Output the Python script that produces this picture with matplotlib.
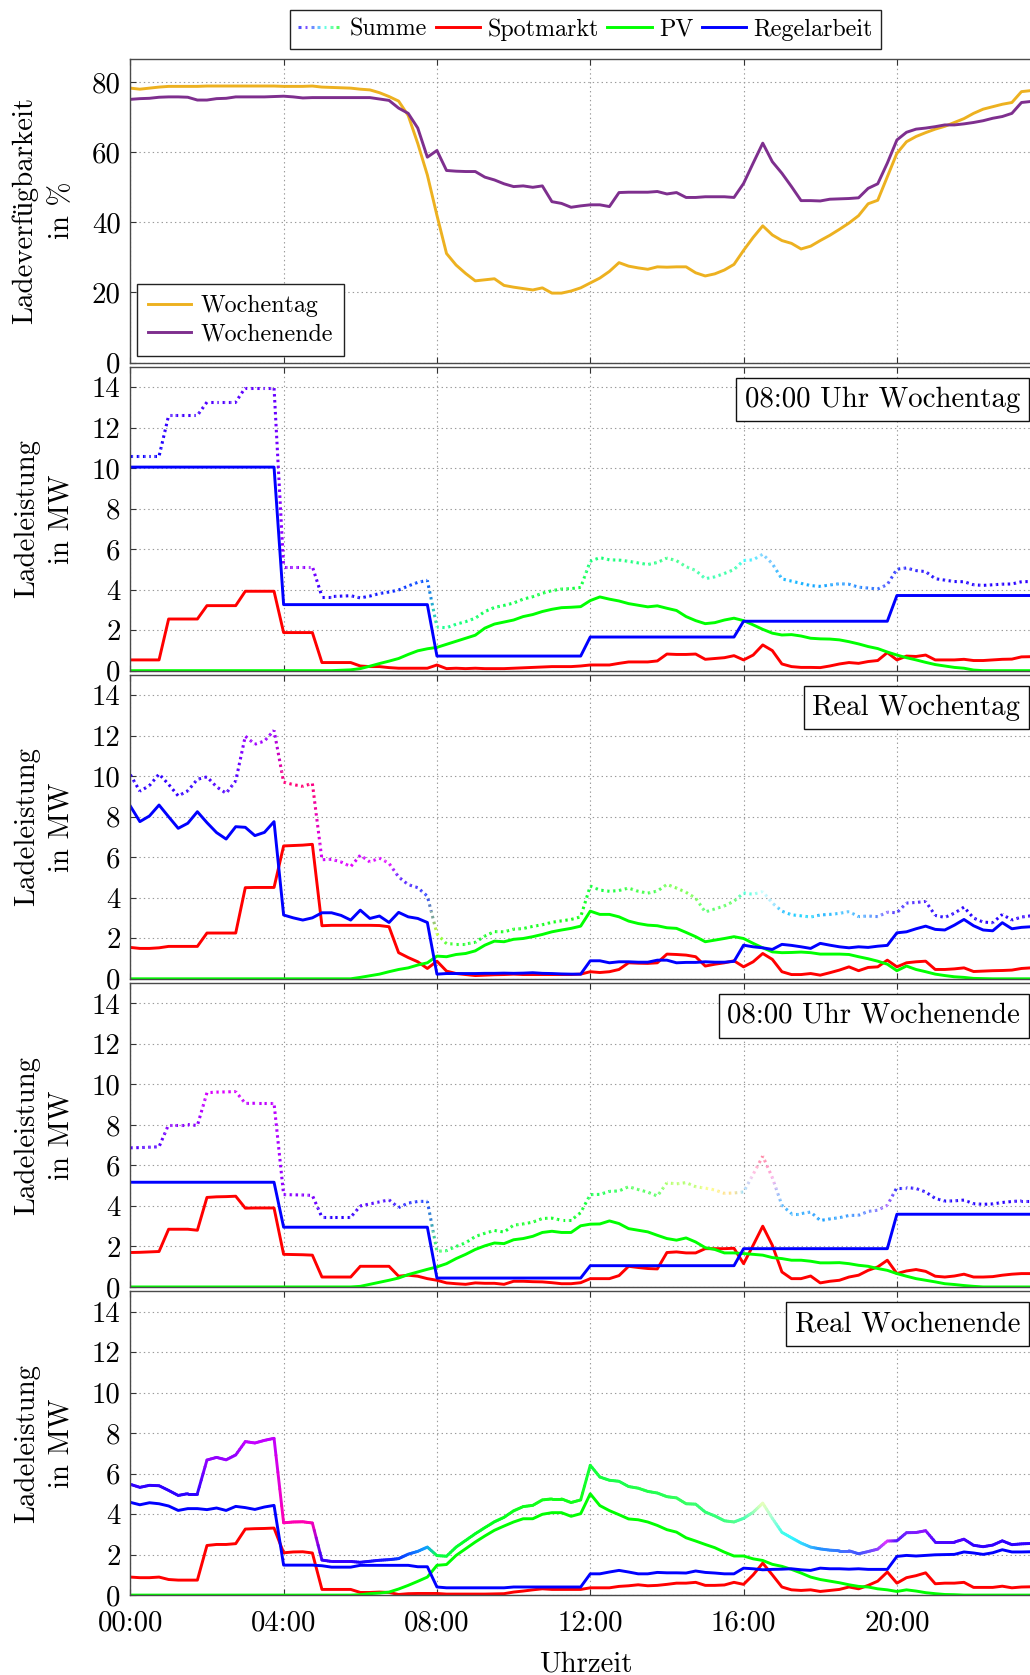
import numpy as np
import matplotlib
matplotlib.use("Agg")
import matplotlib.pyplot as plt
from matplotlib.collections import LineCollection
from matplotlib.legend_handler import HandlerBase
from matplotlib.lines import Line2D

# quarter-hour time axis, 00:00 .. 23:30
HOURS = np.arange(95) * 0.25

# Ladeverfuegbarkeit in %
AVAIL_WT = [78.3, 78.0, 78.3, 78.6,  78.8, 78.8, 78.8, 78.8,  78.9, 78.9, 78.9, 78.9,
            78.9, 78.9, 78.9, 78.9,  78.8, 78.8, 78.8, 78.9,  78.6, 78.5, 78.4, 78.3,
            78.0, 77.8, 77.0, 75.9,  74.6, 70.5, 62.5, 53.5,  42.0, 31.1, 27.8, 25.4,
            23.3, 23.6, 23.9, 22.0,  21.5, 21.1, 20.7, 21.3,  19.8, 19.8, 20.4, 21.3,
            22.7, 24.1, 26.0, 28.5,  27.5, 27.0, 26.6, 27.3,  27.2, 27.3, 27.3, 25.6,
            24.7, 25.3, 26.4, 28.0,  32.0, 35.7, 39.0, 36.4,  34.8, 34.0, 32.4, 33.2,
            34.8, 36.3, 38.0, 39.8,  41.9, 45.3, 46.3, 53.0,  59.7, 63.0, 64.5, 65.6,
            66.6, 67.4, 68.5, 69.6,  71.1, 72.3, 73.0, 73.7,  74.2, 77.3, 77.6]
AVAIL_WE = [75.1, 75.3, 75.4, 75.7,  75.8, 75.8, 75.7, 74.9,  74.9, 75.3, 75.4, 75.8,
            75.8, 75.8, 75.8, 75.9,  76.0, 75.8, 75.5, 75.6,  75.6, 75.6, 75.6, 75.6,
            75.6, 75.6, 75.2, 74.8,  72.6, 71.1, 66.9, 58.6,  60.5, 54.8, 54.6, 54.5,
            54.5, 52.9, 52.1, 51.0,  50.2, 50.4, 50.0, 50.4,  45.9, 45.4, 44.3, 44.7,
            45.0, 45.0, 44.5, 48.5,  48.6, 48.6, 48.6, 48.8,  48.1, 48.5, 47.1, 47.1,
            47.3, 47.3, 47.3, 47.1,  51.1, 56.9, 62.6, 57.3,  54.0, 50.2, 46.2, 46.2,
            46.1, 46.6, 46.7, 46.8,  47.0, 49.7, 51.0, 56.9,  63.5, 65.7, 66.6, 66.9,
            67.3, 67.8, 67.8, 68.1,  68.5, 69.0, 69.7, 70.2,  71.1, 74.2, 74.5]

# 08:00 Uhr Wochentag, MW
SPOT_08_WT = [0.53, 0.53, 0.53, 0.53,  2.55, 2.55, 2.55, 2.55,  3.21, 3.21, 3.21, 3.21,
              3.92, 3.92, 3.92, 3.92,  1.88, 1.88, 1.88, 1.88,  0.40, 0.40, 0.40, 0.40,
              0.23, 0.20, 0.20, 0.15,  0.12, 0.12, 0.12, 0.12,  0.28, 0.10, 0.12, 0.10,
              0.12, 0.10, 0.10, 0.10,  0.12, 0.14, 0.16, 0.18,  0.20, 0.20, 0.20, 0.23,
              0.28, 0.28, 0.28, 0.36,  0.43, 0.43, 0.43, 0.48,  0.82, 0.80, 0.80, 0.82,
              0.56, 0.60, 0.64, 0.74,  0.53, 0.77, 1.27, 0.99,  0.33, 0.20, 0.16, 0.16,
              0.15, 0.23, 0.33, 0.40,  0.36, 0.45, 0.50, 0.89,  0.53, 0.72, 0.70, 0.77,
              0.53, 0.53, 0.53, 0.56,  0.50, 0.50, 0.53, 0.56,  0.57, 0.68, 0.69]
PV_08_WT = [0.0] * 20 + [
              0.00, 0.00, 0.02, 0.04,  0.10, 0.22, 0.35, 0.47,  0.60, 0.80, 0.98, 1.08,
              1.15, 1.30, 1.45, 1.60,  1.75, 2.10, 2.30, 2.40,  2.50, 2.67, 2.77, 2.92,
              3.03, 3.11, 3.13, 3.16,  3.46, 3.64, 3.53, 3.44,  3.31, 3.23, 3.15, 3.20,
              3.08, 2.97, 2.67, 2.47,  2.32, 2.37, 2.50, 2.59,  2.47, 2.26, 2.04, 1.85,
              1.76, 1.78, 1.71, 1.60,  1.57, 1.56, 1.52, 1.43,  1.32, 1.19, 1.09, 0.92,
              0.77, 0.64, 0.53, 0.41,  0.30, 0.23, 0.16, 0.12,  0.03, 0.00, 0.00, 0.00,
              0.00, 0.00, 0.00]
REGEL_08_WT = [10.05] * 16 + [3.26] * 16 + [0.72] * 16 + [1.66] * 16 + [2.44] * 16 + [3.71] * 15

# Real Wochentag, MW
SPOT_REAL_WT = [1.55, 1.50, 1.50, 1.53,  1.60, 1.60, 1.60, 1.60,  2.26, 2.26, 2.26, 2.26,
                4.50, 4.51, 4.51, 4.51,  6.56, 6.58, 6.60, 6.64,  2.62, 2.64, 2.64, 2.64,
                2.64, 2.64, 2.63, 2.57,  1.29, 1.05, 0.84, 0.51,  0.87, 0.38, 0.26, 0.21,
                0.16, 0.18, 0.20, 0.21,  0.23, 0.21, 0.21, 0.21,  0.21, 0.21, 0.21, 0.23,
                0.35, 0.31, 0.35, 0.46,  0.79, 0.77, 0.76, 0.79,  1.22, 1.20, 1.17, 1.09,
                0.63, 0.72, 0.79, 0.89,  0.59, 0.84, 1.25, 0.96,  0.35, 0.21, 0.21, 0.26,
                0.18, 0.30, 0.43, 0.59,  0.40, 0.56, 0.59, 0.92,  0.59, 0.79, 0.84, 0.87,
                0.46, 0.46, 0.49, 0.54,  0.36, 0.38, 0.40, 0.41,  0.43, 0.51, 0.54]
PV_REAL_WT = [0.0] * 24 + [
                0.07, 0.15, 0.23, 0.35,  0.46, 0.54, 0.68, 0.79,  1.12, 1.09, 1.20, 1.25,
                1.38, 1.66, 1.86, 1.83,  1.95, 1.99, 2.08, 2.19,  2.32, 2.41, 2.49, 2.60,
                3.34, 3.18, 3.18, 3.06,  2.85, 2.73, 2.65, 2.62,  2.52, 2.49, 2.29, 2.08,
                1.83, 1.91, 1.99, 2.08,  1.99, 1.75, 1.53, 1.33,  1.29, 1.30, 1.32, 1.29,
                1.22, 1.22, 1.22, 1.20,  1.09, 0.99, 0.87, 0.72,  0.40, 0.63, 0.46, 0.35,
                0.23, 0.16, 0.10, 0.07,  0.02, 0.01, 0.00, 0.00,  0.00, 0.00, 0.00]
REGEL_REAL_WT = [8.53, 7.76, 8.04, 8.58,  8.00, 7.43, 7.68, 8.25,  7.71, 7.22, 6.90, 7.51,
                 7.48, 7.07, 7.23, 7.76,  3.15, 3.01, 2.90, 3.01,  3.26, 3.26, 3.13, 2.90,
                 3.39, 2.98, 3.10, 2.78,  3.28, 3.06, 2.98, 2.78,  0.23, 0.26, 0.26, 0.26,
                 0.26, 0.27, 0.27, 0.28,  0.27, 0.28, 0.30, 0.27,  0.26, 0.24, 0.23, 0.23,
                 0.89, 0.89, 0.79, 0.84,  0.84, 0.82, 0.82, 0.92,  0.92, 0.79, 0.81, 0.81,
                 0.84, 0.82, 0.82, 0.86,  1.66, 1.58, 1.53, 1.45,  1.70, 1.65, 1.58, 1.50,
                 1.75, 1.66, 1.58, 1.53,  1.58, 1.55, 1.61, 1.65,  2.27, 2.32, 2.47, 2.60,
                 2.44, 2.41, 2.65, 2.93,  2.62, 2.41, 2.37, 2.77,  2.47, 2.54, 2.57]

# 08:00 Uhr Wochenende, MW
SPOT_08_WE = [1.70, 1.71, 1.73, 1.75,  2.85, 2.85, 2.85, 2.80,  4.42, 4.45, 4.46, 4.48,
              3.89, 3.90, 3.90, 3.90,  1.61, 1.60, 1.59, 1.57,  0.49, 0.49, 0.49, 0.49,
              1.02, 1.02, 1.02, 1.02,  0.53, 0.58, 0.53, 0.41,  0.33, 0.20, 0.16, 0.13,
              0.20, 0.18, 0.18, 0.13,  0.28, 0.28, 0.26, 0.25,  0.21, 0.16, 0.16, 0.21,
              0.41, 0.41, 0.41, 0.56,  1.02, 0.96, 0.91, 0.89,  1.70, 1.73, 1.68, 1.68,
              1.89, 1.89, 1.89, 1.91,  1.15, 2.06, 3.00, 2.06,  0.74, 0.41, 0.41, 0.54,
              0.20, 0.28, 0.33, 0.49,  0.58, 0.82, 0.99, 1.32,  0.66, 0.79, 0.86, 0.77,
              0.53, 0.49, 0.54, 0.63,  0.49, 0.49, 0.51, 0.58,  0.63, 0.66, 0.66]
PV_08_WE = [0.0] * 24 + [
              0.03, 0.13, 0.23, 0.33,  0.44, 0.61, 0.74, 0.87,  0.99, 1.15, 1.40, 1.61,
              1.85, 2.03, 2.17, 2.14,  2.33, 2.39, 2.50, 2.69,  2.75, 2.69, 2.69, 3.02,
              3.10, 3.11, 3.26, 3.13,  2.88, 2.80, 2.72, 2.55,  2.39, 2.31, 2.42, 2.22,
              1.94, 1.85, 1.68, 1.68,  1.65, 1.61, 1.57, 1.45,  1.40, 1.32, 1.32, 1.27,
              1.19, 1.19, 1.20, 1.15,  1.07, 1.02, 0.91, 0.82,  0.66, 0.53, 0.41, 0.33,
              0.25, 0.16, 0.12, 0.07,  0.03, 0.00, 0.00, 0.00,  0.00, 0.00, 0.00]
REGEL_08_WE = [5.17] * 16 + [2.95] * 16 + [0.44] * 16 + [1.05] * 16 + [1.89] * 16 + [3.59] * 15

# Real Wochenende, MW
SPOT_REAL_WE = [0.89, 0.86, 0.86, 0.89,  0.77, 0.74, 0.74, 0.74,  2.45, 2.50, 2.50, 2.54,
                3.26, 3.28, 3.29, 3.31,  2.09, 2.13, 2.14, 2.08,  0.28, 0.28, 0.28, 0.28,
                0.13, 0.13, 0.15, 0.13,  0.03, 0.07, 0.08, 0.08,  0.08, 0.05, 0.05, 0.05,
                0.05, 0.05, 0.06, 0.07,  0.15, 0.20, 0.26, 0.31,  0.28, 0.28, 0.28, 0.28,
                0.36, 0.36, 0.36, 0.43,  0.46, 0.51, 0.46, 0.48,  0.53, 0.59, 0.59, 0.63,
                0.48, 0.48, 0.50, 0.63,  0.53, 1.00, 1.58, 1.00,  0.40, 0.26, 0.23, 0.26,
                0.18, 0.23, 0.28, 0.40,  0.31, 0.48, 0.69, 1.14,  0.59, 0.86, 0.96, 1.10,
                0.56, 0.59, 0.59, 0.63,  0.38, 0.38, 0.38, 0.44,  0.36, 0.40, 0.41]
PV_REAL_WE = [0.0] * 24 + [
                0.02, 0.07, 0.10, 0.15,  0.30, 0.48, 0.68, 0.89,  1.47, 1.51, 1.96, 2.29,
                2.62, 2.92, 3.20, 3.41,  3.61, 3.77, 3.77, 3.99,  4.07, 4.07, 3.89, 4.02,
                5.00, 4.42, 4.17, 3.97,  3.76, 3.72, 3.61, 3.44,  3.23, 3.11, 2.83, 2.67,
                2.50, 2.34, 2.12, 1.93,  1.93, 1.79, 1.71, 1.52,  1.42, 1.27, 1.09, 0.89,
                0.77, 0.69, 0.61, 0.51,  0.43, 0.40, 0.31, 0.26,  0.18, 0.26, 0.20, 0.12,
                0.07, 0.03, 0.02, 0.00,  0.00, 0.00, 0.00, 0.00,  0.00, 0.00, 0.00]
REGEL_REAL_WE = [4.58, 4.46, 4.56, 4.51,  4.40, 4.18, 4.27, 4.27,  4.22, 4.30, 4.18, 4.38,
                 4.32, 4.23, 4.35, 4.43,  1.48, 1.48, 1.48, 1.48,  1.45, 1.38, 1.38, 1.38,
                 1.47, 1.47, 1.47, 1.47,  1.47, 1.47, 1.40, 1.40,  0.40, 0.36, 0.36, 0.36,
                 0.36, 0.36, 0.36, 0.36,  0.40, 0.40, 0.40, 0.40,  0.40, 0.40, 0.40, 0.40,
                 1.05, 1.05, 1.14, 1.22,  1.14, 1.05, 1.05, 1.12,  1.10, 1.10, 1.09, 1.19,
                 1.12, 1.09, 1.05, 1.05,  1.33, 1.30, 1.25, 1.27,  1.28, 1.30, 1.25, 1.22,
                 1.33, 1.30, 1.30, 1.28,  1.30, 1.27, 1.27, 1.27,  1.91, 1.96, 1.93, 1.96,
                 1.99, 2.00, 2.01, 2.13,  2.08, 2.01, 2.09, 2.24,  2.13, 2.13, 2.14]

PANELS = [
    ("08:00 Uhr Wochentag", SPOT_08_WT, PV_08_WT, REGEL_08_WT, True),
    ("Real Wochentag", SPOT_REAL_WT, PV_REAL_WT, REGEL_REAL_WT, True),
    ("08:00 Uhr Wochenende", SPOT_08_WE, PV_08_WE, REGEL_08_WE, True),
    ("Real Wochenende", SPOT_REAL_WE, PV_REAL_WE, REGEL_REAL_WE, False),
]
for _, s, p, r, _ in PANELS:
    assert len(s) == len(p) == len(r) == len(HOURS)

XTICKS = [0, 4, 8, 12, 16, 20]
XTICKLABELS = ["00:00", "04:00", "08:00", "12:00", "16:00", "20:00"]

C_WT = "#EDB120"
C_WE = "#7E2F8E"
C_SPOT = "#ff0000"
C_PV = "#00ff00"
C_REGEL = "#0000ff"
KEY_COLORS = ["#5050ff", "#7c50ff", "#6c8cff", "#66c8ff", "#66ffe0", "#66ffaa", "#55ff66"]

LW = 2.1
LW_DOT = 2.2
DOTS = (1.8, 2.5)
FS = 20.8
LEG_FS = 17.3

plt.rcParams["font.family"] = ["cmr10", "Liberation Serif"]
plt.rcParams["lines.scale_dashes"] = False
plt.rcParams["axes.unicode_minus"] = False

W, H = 1030, 1675
fig = plt.figure(figsize=(W / 100, H / 100), dpi=100)

AX_L = 130.3
PX_PER_H = 38.33
X_MAX = 23.75
AX_W = PX_PER_H * X_MAX
AX_H = 303.8
TOPS = [58.7, 366.85, 675.0, 983.15, 1291.3]


def make_axes(top):
    ax = fig.add_axes([AX_L / W, 1 - (top + AX_H) / H, AX_W / W, AX_H / H])
    ax.set_xlim(0, X_MAX)
    ax.set_xticks(XTICKS)
    ax.set_xticklabels(XTICKLABELS)
    ax.grid(True, color="#9a9a9a", linestyle=(0, (1.0, 2.2)), linewidth=0.8)
    ax.set_axisbelow(True)
    ax.tick_params(direction="in", length=4, width=0.8, color="#333333",
                   top=True, right=True, labelsize=FS, pad=7)
    ax.tick_params(axis="x", pad=10.5, labelbottom=False)
    for sp in ax.spines.values():
        sp.set_color("#4a4a4a")
        sp.set_linewidth(1.0)
    return ax


def mix_colors(s, p, r):
    comp = np.column_stack([s, p, r])
    peak = comp.max(axis=1, keepdims=True)
    return comp / np.where(peak > 0, peak, 1.0)


def draw_summe(ax, s, p, r, dotted):
    s, p, r = np.asarray(s), np.asarray(p), np.asarray(r)
    y = s + p + r
    cols = mix_colors(s, p, r)
    n = 5
    segs, seg_cols = [], []
    for i in range(len(HOURS) - 1):
        for k in range(n):
            a, b = k / n, (k + 1) / n
            x0 = HOURS[i] + (HOURS[i + 1] - HOURS[i]) * a
            x1 = HOURS[i] + (HOURS[i + 1] - HOURS[i]) * b
            y0 = y[i] + (y[i + 1] - y[i]) * a
            y1 = y[i] + (y[i + 1] - y[i]) * b
            segs.append([(x0, y0), (x1, y1)])
            m = (a + b) / 2
            seg_cols.append(cols[i] * (1 - m) + cols[i + 1] * m)
    seg_cols = np.clip(seg_cols, 0, 1)
    if dotted:
        lc = LineCollection(segs, colors=seg_cols, linewidths=LW_DOT)
        pts = ax.transData.transform(np.array(segs).reshape(-1, 2)).reshape(-1, 2, 2)
        lens = np.hypot(*(pts[:, 1] - pts[:, 0]).T) * 72 / fig.dpi
        offs = np.concatenate([[0], np.cumsum(lens)[:-1]])
        lc.set_linestyles([(o, DOTS) for o in offs])
        lc.set_capstyle("butt")
    else:
        lc = LineCollection(segs, colors=seg_cols, linewidths=LW)
        lc.set_capstyle("round")
        lc.set_joinstyle("round")
    ax.add_collection(lc)


class SummeKey(HandlerBase):
    def create_artists(self, legend, orig_handle, xdescent, ydescent,
                       width, height, fontsize, trans):
        n = len(KEY_COLORS)
        step = width / n
        yc = height / 2 - ydescent
        segs = [[(-xdescent + i * step, yc), (-xdescent + i * step + step * 0.42, yc)]
                for i in range(n)]
        lc = LineCollection(segs, colors=KEY_COLORS, linewidths=LW_DOT, transform=trans)
        lc.set_capstyle("butt")
        return [lc]


def ylabel(top, first, second, x1=26.7, x2=61.0):
    yc = 1 - (top + AX_H / 2) / H
    fig.text(x1 / W, yc, first, rotation=90, ha="center", va="center", fontsize=FS)
    fig.text(x2 / W, yc, second, rotation=90, ha="center", va="center", fontsize=FS)


# availability panel
ax1 = make_axes(TOPS[0])
ax1.set_ylim(0, 86.7)
ax1.set_yticks([0, 20, 40, 60, 80])
ax1.plot(HOURS, AVAIL_WT, color=C_WT, lw=LW, label="Wochentag")
ax1.plot(HOURS, AVAIL_WE, color=C_WE, lw=LW, label="Wochenende")
leg1 = ax1.legend(loc="lower left", bbox_to_anchor=(6.7 / AX_W, 6.3 / AX_H),
                  borderaxespad=0, fontsize=LEG_FS, fancybox=False, framealpha=1,
                  edgecolor="#222222", handlelength=1.8, handletextpad=0.38,
                  borderpad=0.45, labelspacing=0.25)
leg1.get_frame().set_linewidth(1.0)
ylabel(TOPS[0], "Ladeverfügbarkeit", "in %", x1=24.7, x2=62.0)

# power panels
axes = []
for (name, s, p, r, dotted), top in zip(PANELS, TOPS[1:]):
    ax = make_axes(top)
    ax.set_ylim(0, 15.0)
    ax.set_yticks(range(0, 15, 2))
    draw_summe(ax, s, p, r, dotted)
    ax.plot(HOURS, s, color=C_SPOT, lw=LW)
    ax.plot(HOURS, p, color=C_PV, lw=LW)
    ax.plot(HOURS, r, color=C_REGEL, lw=LW)
    pad_px = 0.3 * FS * 100 / 72
    fig.text((1029 - pad_px) / W, 1 - (top + 10.7 + pad_px) / H, name,
             ha="right", va="top", fontsize=FS,
             bbox=dict(boxstyle="square,pad=0.3", fc="white", ec="#111111", lw=1.0))
    ylabel(top, "Ladeleistung", "in MW")
    axes.append(ax)

axes[-1].tick_params(axis="x", labelbottom=True)
fig.text(585.4 / W, 1 - 1671.7 / H, "Uhrzeit", ha="center", va="baseline", fontsize=FS)

# shared legend on top
summe_proxy = Line2D([], [])
handles = [summe_proxy,
           Line2D([], [], color=C_SPOT, lw=LW),
           Line2D([], [], color=C_PV, lw=LW),
           Line2D([], [], color=C_REGEL, lw=LW)]
leg = fig.legend(handles, ["Summe", "Spotmarkt", "PV", "Regelarbeit"],
                 loc="upper center", bbox_to_anchor=(585.4 / W, 1 - 10 / H),
                 borderaxespad=0, ncol=4, fontsize=LEG_FS, fancybox=False,
                 framealpha=1, edgecolor="#222222", handlelength=1.85,
                 handletextpad=0.3, columnspacing=0.35, borderpad=0.35,
                 handler_map={summe_proxy: SummeKey()})
leg.get_frame().set_linewidth(1.0)

fig.savefig("out.png", dpi=100)
